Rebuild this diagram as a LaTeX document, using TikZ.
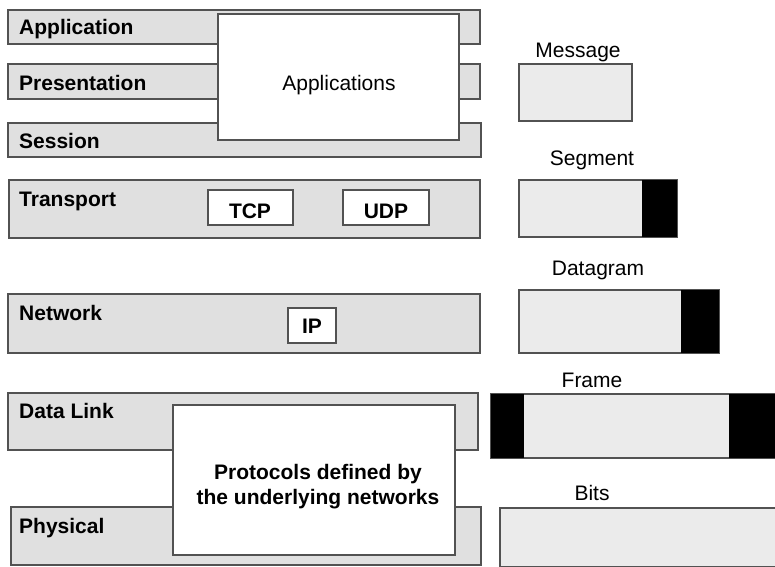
\documentclass[tikz,border=0pt]{standalone}
\usepackage{fontspec}
\setmainfont{Liberation Sans}
\usepackage{tikz}

\begin{document}
\begin{tikzpicture}[x=1pt,y=-1pt,
  layer/.style={draw=black!68,fill=black!12,line width=1.3pt},
  whitebox/.style={draw=black!68,fill=white,line width=1.3pt},
  pdu/.style={draw=black!68,fill=black!8,line width=1.3pt},
  lbl/.style={inner sep=0pt,font=\fontsize{21}{25}\selectfont},
  blbl/.style={inner sep=0pt,font=\fontsize{21}{25}\selectfont\bfseries}]
  \useasboundingbox (0,0) rectangle (775,566);
  % the seven layers (left x, top, right x, bottom, baseline of the name)
  \foreach \n/\xa/\ya/\xb/\yb/\bl/\name in {
      app/8/10/480/44/34/Application,
      pres/8/64/480/99/90/Presentation,
      sess/8/123/481/157/148/Session,
      trans/9/180/480/238/206/Transport,
      net/8/294/480/353/320/Network,
      link/8/393/478/450/418/Data Link,
      phys/11/507/481/565/533/Physical} {
    \draw[layer] (\xa,\ya) rectangle (\xb,\yb);
    \node[blbl,anchor=base west] (\n) at (19,\bl) {\name};
  }
  % what runs in the layers
  \draw[whitebox] (218,14) rectangle (459,140);
  \node[lbl,anchor=base] (apps) at (339,90) {Applications};
  \draw[whitebox] (208,190) rectangle (293,225);
  \node[blbl,anchor=base] (tcp) at (250,218) {TCP};
  \draw[whitebox] (343,190) rectangle (429,225);
  \node[blbl,anchor=base] (udp) at (386,218) {UDP};
  \draw[whitebox] (288,308) rectangle (336,343);
  \node[blbl,anchor=base] (ip) at (312,333) {IP};
  \draw[whitebox] (173,405) rectangle (455,555);
  \node[blbl,align=center] (proto) at (318,487)
    {Protocols defined by\\the underlying networks};
  % data units with their headers (black)
  \draw[pdu] (519,64) rectangle (632,121);
  \node[lbl,anchor=base] (msg) at (578,57) {Message};
  \draw[pdu] (519,180) rectangle (677,237);
  \fill[black] (642,180) rectangle (677,237);
  \node[lbl,anchor=base] (seg) at (592,165) {Segment};
  \draw[pdu] (519,290) rectangle (719,353);
  \fill[black] (681,290) rectangle (719,353);
  \node[lbl,anchor=base] (dgram) at (598,275) {Datagram};
  \draw[pdu] (491,394) rectangle (776,458);
  \fill[black] (491,394) rectangle (524,458);
  \fill[black] (729,394) rectangle (776,458);
  \node[lbl,anchor=base] (frame) at (592,387) {Frame};
  \draw[pdu] (500,508) rectangle (776,567);
  \node[lbl,anchor=base] (bits) at (592,500) {Bits};
\end{tikzpicture}
\end{document}
